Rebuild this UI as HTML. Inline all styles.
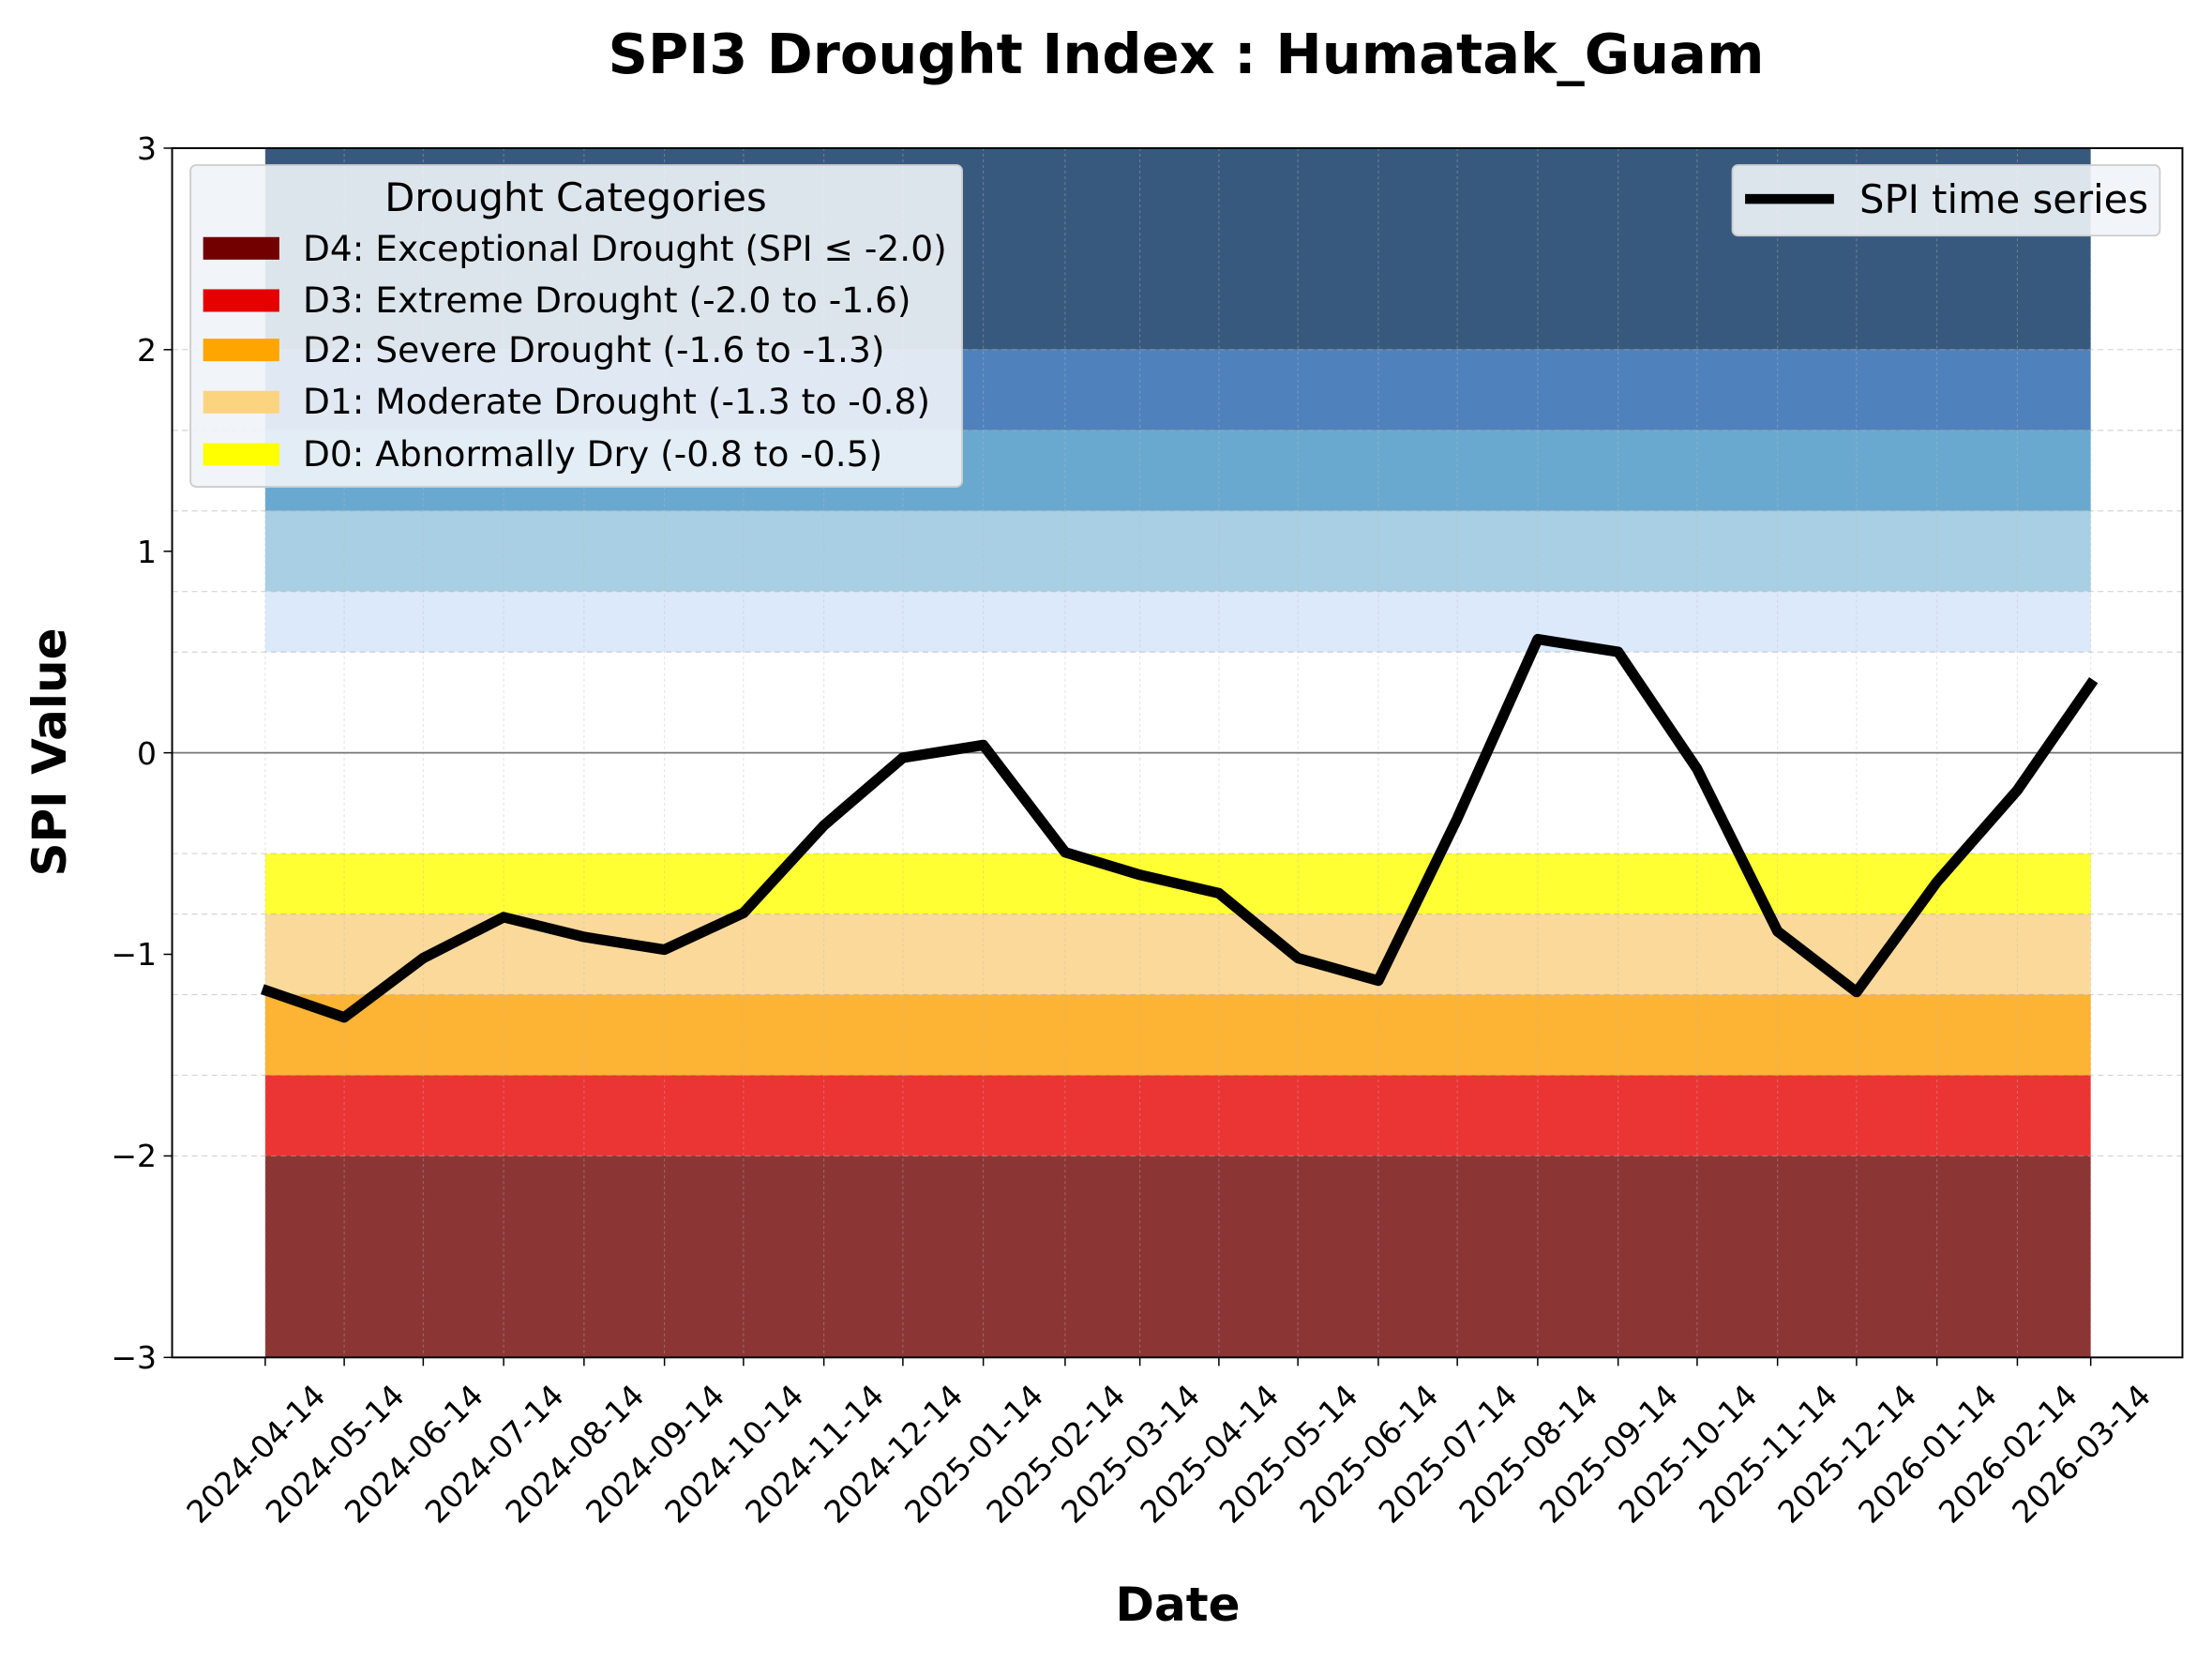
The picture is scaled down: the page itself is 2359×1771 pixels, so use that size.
<!DOCTYPE html>
<html><head><meta charset="utf-8"><style>html,body{margin:0;padding:0;background:#fff}svg{display:block}</style></head><body>
<svg width="2359" height="1771" xmlns="http://www.w3.org/2000/svg" font-family="'DejaVu Sans', 'Liberation Sans', sans-serif">
<rect width="2359" height="1771" fill="#fff"/>
<g transform="scale(1.5045)">
<rect x="188" y="105" width="1294" height="142.8" fill="#38597e"/>
<rect x="188" y="247.8" width="1294" height="57.2" fill="#4f82bc"/>
<rect x="188" y="305" width="1294" height="57.1" fill="#6aa9cf"/>
<rect x="188" y="362.1" width="1294" height="57.1" fill="#a8cfe3"/>
<rect x="188" y="419.2" width="1294" height="42.9" fill="#dbe9fb"/>
<rect x="188" y="604.9" width="1294" height="42.9" fill="#ffff33"/>
<rect x="188" y="647.8" width="1294" height="57.1" fill="#fad99a"/>
<rect x="188" y="704.9" width="1294" height="57.1" fill="#fdb333"/>
<rect x="188" y="762" width="1294" height="57.2" fill="#eb3434"/>
<rect x="188" y="819.2" width="1294" height="142.8" fill="#8c3535"/>
<g stroke="#aaa" stroke-opacity="0.5" stroke-width="0.8" stroke-dasharray="4,3">
<line x1="122" x2="1547" y1="247.8" y2="247.8"/><line x1="122" x2="1547" y1="305" y2="305"/>
<line x1="122" x2="1547" y1="362.1" y2="362.1"/><line x1="122" x2="1547" y1="419.2" y2="419.2"/>
<line x1="122" x2="1547" y1="462.1" y2="462.1"/><line x1="122" x2="1547" y1="604.9" y2="604.9"/>
<line x1="122" x2="1547" y1="647.8" y2="647.8"/><line x1="122" x2="1547" y1="704.9" y2="704.9"/>
<line x1="122" x2="1547" y1="762" y2="762"/><line x1="122" x2="1547" y1="819.2" y2="819.2"/>
</g>
<g stroke="#bbb" stroke-opacity="0.4" stroke-width="0.7" stroke-dasharray="2,2" id="vg"></g>
<line x1="122" x2="1547" y1="533.5" y2="533.5" stroke="#777" stroke-width="1.2"/>
<polyline fill="none" stroke="#000" stroke-width="7.5" stroke-linejoin="round" points="186,701 244,721 300,679 357,650 414,664 471,673 527,647 584,585 640,537 697,528 755,604 808,620 864,633 920,679 977,695 1033,580 1090,453 1147,462 1203,545 1260,660 1316,703 1373,625 1430,560 1484,482"/>
<rect x="122" y="105" width="1425" height="857" fill="none" stroke="#000" stroke-width="1.3"/>
<g stroke="#000" id="tk">
<line x1="116" x2="122" y1="105" y2="105"/><line x1="116" x2="122" y1="247.8" y2="247.8"/>
<line x1="116" x2="122" y1="390.7" y2="390.7"/><line x1="116" x2="122" y1="533.5" y2="533.5"/>
<line x1="116" x2="122" y1="676.3" y2="676.3"/><line x1="116" x2="122" y1="819.2" y2="819.2"/>
<line x1="116" x2="122" y1="962" y2="962"/>
</g>
<rect x="135" y="117" width="547" height="228" rx="4" fill="#f0f4f8" fill-opacity="0.9" stroke="#ccc" stroke-width="1.2"/>
<rect x="144" y="168" width="54" height="16" fill="#730000"/>
<rect x="144" y="205" width="54" height="16" fill="#e60000"/>
<rect x="144" y="240" width="54" height="16" fill="#ffa500"/>
<rect x="144" y="277" width="54" height="16" fill="#fcd37f"/>
<rect x="144" y="314" width="54" height="16" fill="#ffff00"/>
<rect x="1228" y="117" width="303" height="50" rx="4" fill="#f0f4f8" fill-opacity="0.9" stroke="#ccc" stroke-width="1.2"/>
<line x1="1237" x2="1300" y1="141" y2="141" stroke="#000" stroke-width="7"/>
</g>
<text x="1265" y="78" text-anchor="middle" font-size="59" font-weight="bold">SPI3 Drought Index :  Humatak_Guam</text>
<g font-size="33" text-anchor="end">
<text x="167" y="170">3</text><text x="167" y="385">2</text><text x="167" y="600">1</text>
<text x="167" y="815">0</text><text x="167" y="1029">−1</text><text x="167" y="1244">−2</text><text x="167" y="1459">−3</text>
</g>
<g id="xt" font-size="33" text-anchor="middle"></g>
<text x="1256" y="1728" text-anchor="middle" font-size="50" font-weight="bold">Date</text>
<text transform="translate(70,802) rotate(-90)" text-anchor="middle" font-size="50" font-weight="bold">SPI Value</text>
<text x="614" y="225" text-anchor="middle" font-size="41.7">Drought Categories</text>
<g font-size="37.5">
<text x="323" y="278">D4: Exceptional Drought (SPI ≤ -2.0)</text>
<text x="323" y="333">D3: Extreme Drought (-2.0 to -1.6)</text>
<text x="323" y="386">D2: Severe Drought (-1.6 to -1.3)</text>
<text x="323" y="441">D1: Moderate Drought (-1.3 to -0.8)</text>
<text x="323" y="497">D0: Abnormally Dry (-0.8 to -0.5)</text>
</g>
<text x="1983" y="227" font-size="41.7">SPI time series</text>
<script>
var xs=[188,244,300,357,414,471,527,584,640,697,755,808,864,920,977,1033,1090,1147,1203,1260,1316,1373,1430,1482];
var lb=["2024-04-14","2024-05-14","2024-06-14","2024-07-14","2024-08-14","2024-09-14","2024-10-14","2024-11-14","2024-12-14","2025-01-14","2025-02-14","2025-03-14","2025-04-14","2025-05-14","2025-06-14","2025-07-14","2025-08-14","2025-09-14","2025-10-14","2025-11-14","2025-12-14","2026-01-14","2026-02-14","2026-03-14"];
var ns="http://www.w3.org/2000/svg",g=document.getElementById("xt"),v=document.getElementById("vg"),tk=document.getElementById("tk"),s=1.5045;
xs.forEach(function(x,i){
var l=document.createElementNS(ns,"line");l.setAttribute("x1",x);l.setAttribute("x2",x);l.setAttribute("y1",962);l.setAttribute("y2",968);tk.appendChild(l);
var d=document.createElementNS(ns,"line");d.setAttribute("x1",x);d.setAttribute("x2",x);d.setAttribute("y1",105);d.setAttribute("y2",962);v.appendChild(d);
var t=document.createElementNS(ns,"text");t.setAttribute("transform","translate("+(x*s-10)+",1550) rotate(-45)");t.setAttribute("dy","0.35em");t.textContent=lb[i];g.appendChild(t);});
</script>
</svg>
</body></html>
